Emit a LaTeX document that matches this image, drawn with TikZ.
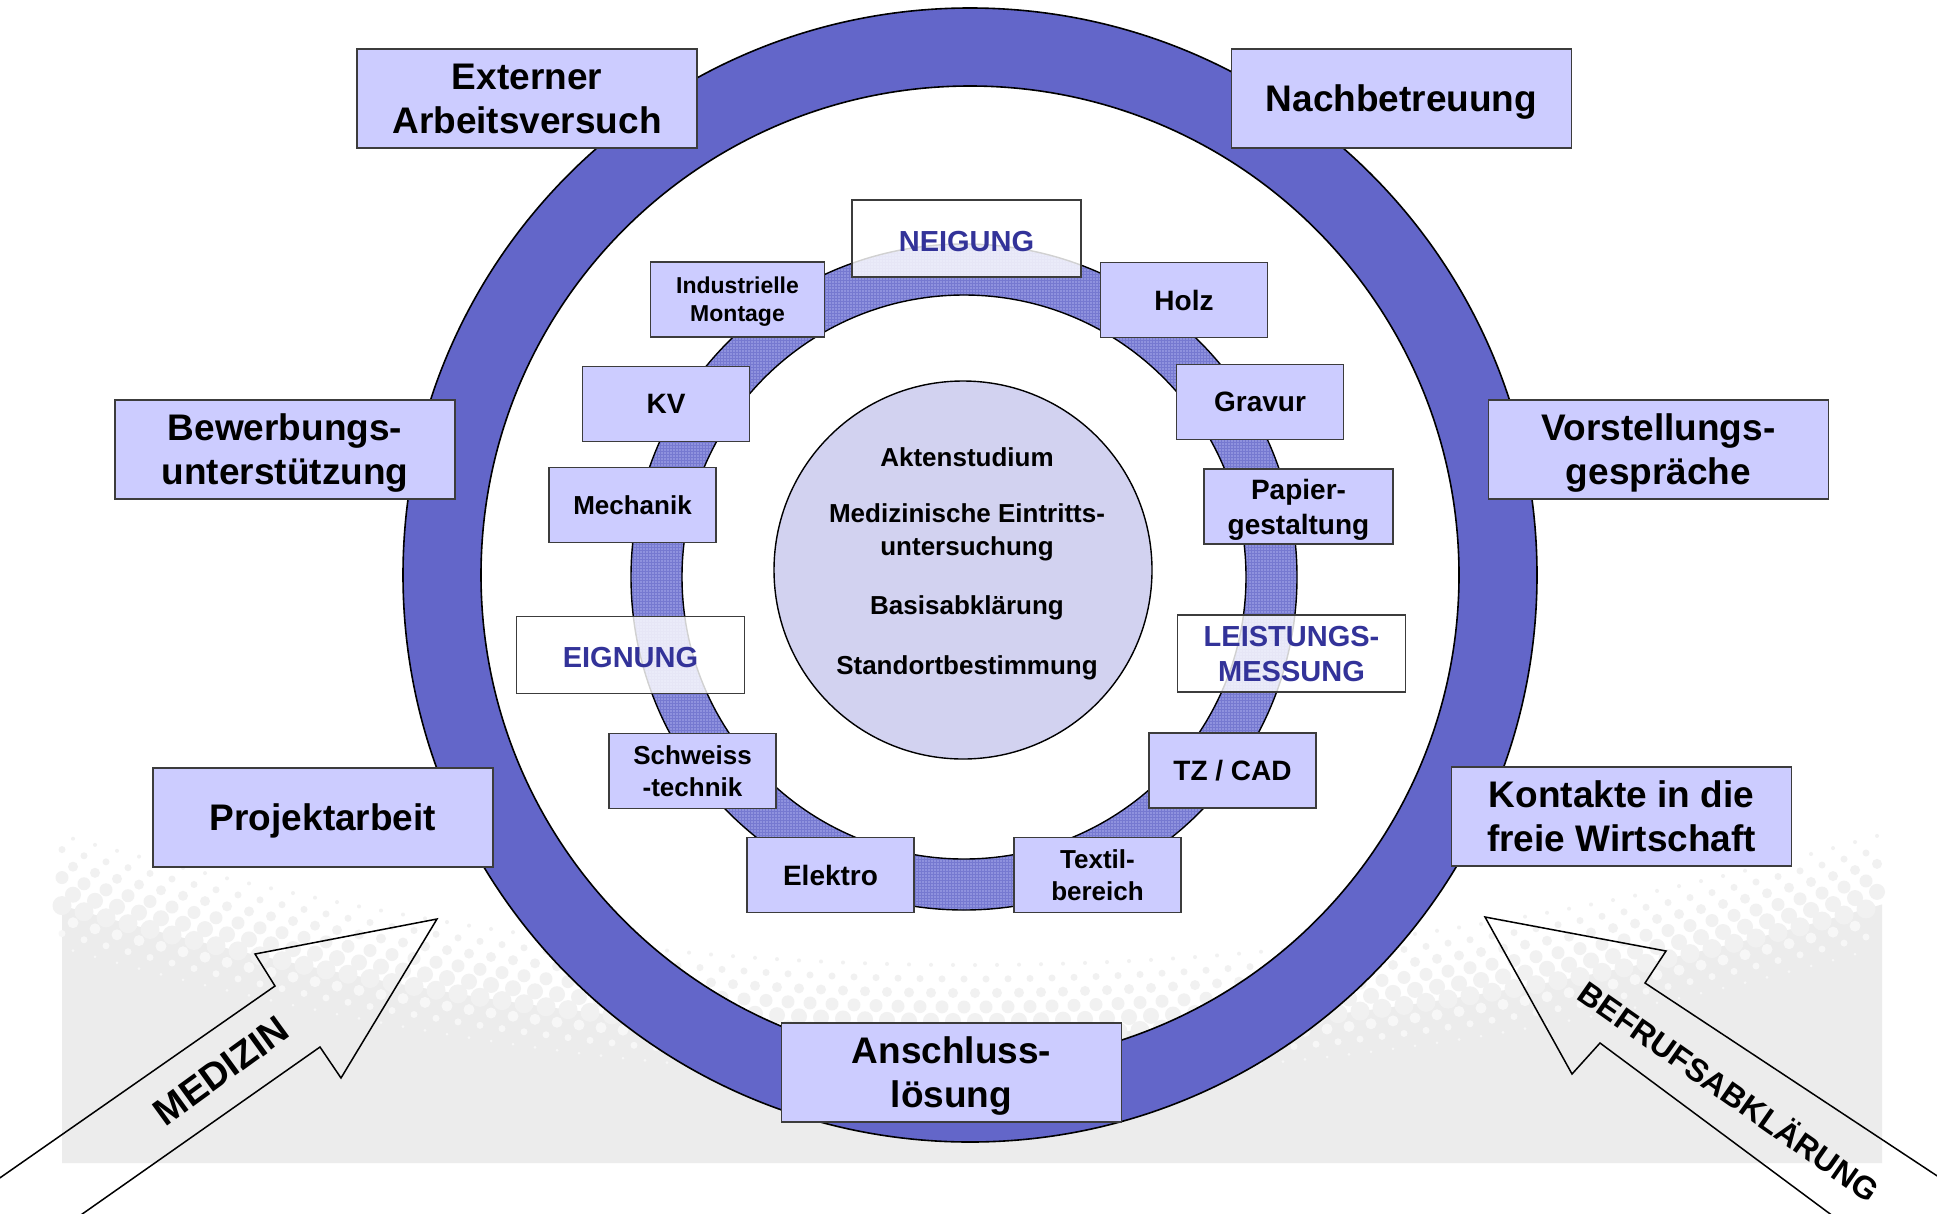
\documentclass[tikz,border=0pt]{standalone}
\usepackage{fontspec}
\setmainfont{Liberation Sans}
\usetikzlibrary{patterns}
\definecolor{ringblue}{RGB}{99,102,201}
\definecolor{midring}{RGB}{143,146,222}
\definecolor{midgrid}{RGB}{118,121,208}
\definecolor{boxfill}{RGB}{204,204,255}
\definecolor{corefill}{RGB}{210,210,240}
\definecolor{labelblue}{RGB}{51,51,153}
\definecolor{bggrey}{RGB}{236,236,236}
\definecolor{dotgrey}{RGB}{241,241,241}
\definecolor{edgegrey}{RGB}{60,60,60}
\tikzset{
 outerbox/.style={text depth=0pt, draw=edgegrey, line width=1.6pt, fill=boxfill, minimum width=340pt, minimum height=99pt, inner sep=0pt, align=center, font=\fontsize{37}{44}\selectfont\bfseries},
 innerbox/.style={text depth=0pt, draw=edgegrey, line width=1.4pt, fill=boxfill, minimum width=167pt, minimum height=75pt, inner sep=0pt, align=center, font=\fontsize{28}{33}\selectfont\bfseries},
 phasebox/.style={text depth=0pt, draw=edgegrey, line width=1.4pt, fill=white, fill opacity=0.82, text opacity=1, minimum width=228pt, minimum height=77pt, inner sep=0pt, align=center, text=labelblue, font=\fontsize{29}{35}\selectfont\bfseries},
 coretext/.style={font=\fontsize{26}{33}\selectfont\bfseries, align=center, inner sep=0pt},
 arrowline/.style={draw=black, line width=1.5pt, line join=miter},
 arrowtext/.style={inner sep=0pt},
}
\begin{document}
\begin{tikzpicture}[x=1pt,y=-1pt]
\useasboundingbox (0,0) rectangle (1937,1213);
\fill[white] (0,0) rectangle (1937,1213);
% background band with halftone edge
\fill[bggrey] (62,1163) -- plot[domain=62:1882,samples=60] (\x,{1035-130*((\x-970)/910)^2}) -- (1882,1163) -- cycle;
\foreach \i in {0,...,82}{
 \foreach \k in {0,...,5}{
  \pgfmathsetmacro\xx{62+22*\i+11*mod(\k,2)}
  \pgfmathsetmacro\yy{1035-130*((\xx-970)/910)^2-14*\k}
  \pgfmathsetmacro\rr{9.5-1.5*\k}
  \ifdim\xx pt<1882pt \fill[dotgrey] (\xx,\yy) circle (\rr pt);\fi
 }
 \foreach \j in {1,2,3}{
  \pgfmathsetmacro\xx{62+22*\i+11*mod(\j,2)}
  \pgfmathsetmacro\yy{1035-130*((\xx-970)/910)^2+14*\j}
  \pgfmathsetmacro\rr{7.5-2*\j}
  \ifdim\xx pt<1870pt \fill[white!60!bggrey] (\xx,\yy) circle (\rr pt);\fi
 }
}
% outer ring
\fill[ringblue, even odd rule] (970,575) circle (567pt) (970,575) circle (489pt);
\draw[line width=1.6pt] (970,575) circle (567pt) (970,575) circle (489pt);
% middle ring
\fill[midring, even odd rule] (964,577) circle (333pt) (964,577) circle (282pt);
\fill[pattern=grid, pattern color=midgrid, even odd rule] (964,577) circle (333pt) (964,577) circle (282pt);
\draw[line width=1.4pt] (964,577) circle (333pt) (964,577) circle (282pt);
% core
\node[circle, draw, line width=1.4pt, fill=corefill, minimum size=378pt, inner sep=0pt] (core) at (963,570) {};
\node[coretext] (c1) at (967,457) {Aktenstudium};
\node[coretext] (c2) at (967,532) {Medizinische Eintritts-\\untersuchung};
\node[coretext] (c3) at (967,608) {Basisabklärung};
\node[coretext] (c4) at (967,668) {Standortbestimmung};
% inner boxes
\node[innerbox, minimum width=174pt, font=\fontsize{23}{28}\selectfont\bfseries] (indm) at (737.5,299.5) {Industrielle\\Montage};
\node[innerbox] (holz) at (1184,300) {Holz};
\node[innerbox] (kv) at (666,404) {KV};
\node[innerbox] (grav) at (1260,402) {Gravur};
\node[innerbox, font=\fontsize{26}{32}\selectfont\bfseries] (mech) at (632.5,505) {Mechanik};
\node[innerbox, minimum width=189pt, font=\fontsize{28}{35}\selectfont\bfseries] (pap) at (1298.5,506.5) {Papier-\\gestaltung};
\node[innerbox, font=\fontsize{26}{32}\selectfont\bfseries] (schw) at (692.5,771) {Schweiss\\-technik};
\node[innerbox] (tz) at (1232.5,770.5) {TZ / CAD};
\node[innerbox] (elek) at (830.5,875) {Elektro};
\node[innerbox, font=\fontsize{26}{32}\selectfont\bfseries] (textil) at (1097.5,875) {Textil-\\bereich};
% phase boxes
\node[phasebox, minimum width=229pt, text height=25.8pt] (neig) at (966.5,238.5) {NEIGUNG};
\node[phasebox, text height=25.8pt] (eign) at (630.5,655) {EIGNUNG};
\node[phasebox] (leist) at (1291.5,653.5) {LEISTUNGS-\\MESSUNG};
% outer boxes
\node[outerbox] (ext) at (527,98.5) {Externer\\Arbeitsversuch};
\node[outerbox] (nach) at (1401.5,98.5) {Nachbetreuung};
\node[outerbox] (bew) at (285,449.5) {Bewerbungs-\\unterstützung};
\node[outerbox] (vor) at (1658.5,449.5) {Vorstellungs-\\gespräche};
\node[outerbox] (proj) at (323,817.5) {Projektarbeit};
\node[outerbox] (kont) at (1621.5,816.5) {Kontakte in die\\freie Wirtschaft};
\node[outerbox] (ansch) at (951.5,1072.5) {Anschluss-\\lösung};
% block arrows
\draw[arrowline] (-6,1182) -- (275,986) -- (255,954) -- (437,919) -- (341,1078) -- (320,1047) -- (68,1224);
\node[arrowtext, rotate=36, font=\fontsize{38}{38}\selectfont\bfseries] (med) at (221,1071) {MEDIZIN};
\draw[arrowline] (1960,1191) -- (1645,983) -- (1666,951) -- (1485,917) -- (1572,1074) -- (1600,1043) -- (1845,1225);
\node[arrowtext, rotate=-35, font=\fontsize{32}{32}\selectfont\bfseries] (bef) at (1730,1090) {BEFRUFSABKLÄRUNG};
\end{tikzpicture}
\end{document}
